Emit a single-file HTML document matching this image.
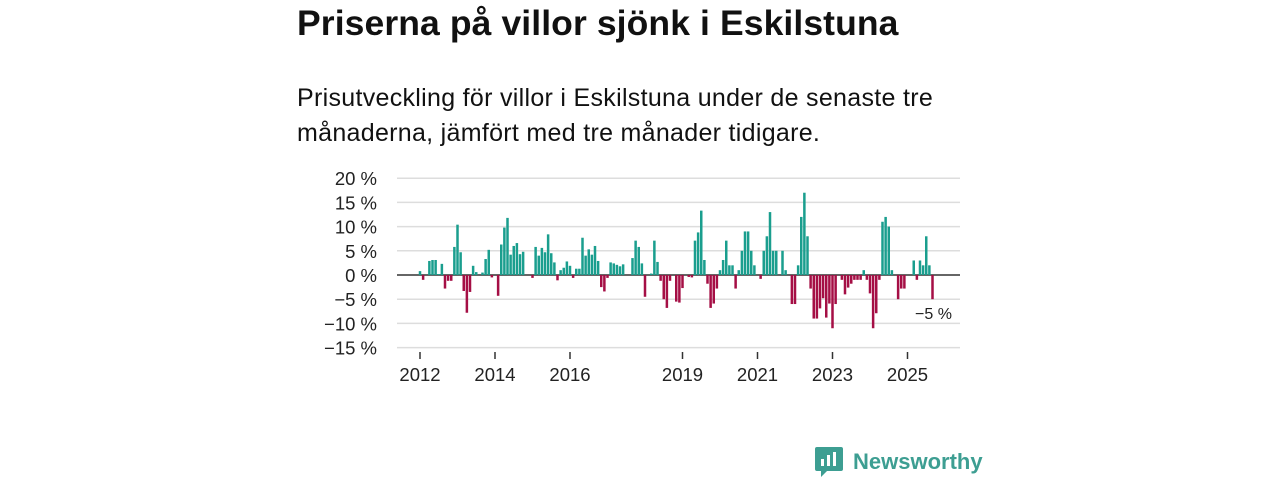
<!DOCTYPE html>
<html><head><meta charset="utf-8"><style>
body{margin:0;width:1280px;height:480px;background:#fff;font-family:"Liberation Sans","DejaVu Sans",sans-serif;color:#111;position:relative;overflow:hidden}
#title{position:absolute;left:297px;top:3px;font-size:35.5px;font-weight:bold;margin:0;letter-spacing:0.1px;white-space:nowrap}
#sub{position:absolute;left:297px;top:81px;font-size:25px;line-height:35px;width:720px;letter-spacing:0.3px}
svg{position:absolute;left:0;top:0}
</style></head><body>
<h1 id="title">Priserna på villor sjönk i Eskilstuna</h1>
<div id="sub">Prisutveckling för villor i Eskilstuna under de senaste tre<br>månaderna, jämfört med tre månader tidigare.</div>
<svg id="chart" width="1280" height="480"></svg>
<script>
const values=[0.8,-1,null,2.9,3.1,3.1,0.2,2.3,-2.8,-1.2,-1.2,5.8,10.4,4.7,-3.3,-7.8,-3.5,1.9,0.6,null,0.5,3.3,5.2,-0.5,null,-4.3,6.3,9.8,11.8,4.2,6,6.6,4.3,4.8,null,null,-0.6,5.8,4,5.6,4.7,8.4,4.5,2.6,-1.1,1,1.5,2.8,1.9,-0.6,1.3,1.3,7.7,4,5.3,4.2,6,2.9,-2.5,-3.4,-0.6,2.6,2.4,2.1,1.8,2.2,null,null,3.5,7.1,5.8,2.4,-4.5,null,0.3,7.1,2.7,-1.2,-5,-6.8,-1.2,null,-5.5,-5.7,-2.7,null,-0.4,-0.5,7.1,8.8,13.3,3.1,-1.8,-6.8,-5.9,-2.8,1,3.1,7.1,2,2,-2.8,1,5,9,9,5,2,null,-0.8,5,8,13,5,5,null,5,1,null,-6,-6,2,12,17,8,-2.8,-9,-9,-6.9,-4.8,-8.8,-5.9,-11,-6,null,-1,-4,-2.6,-1.8,-1,-1,-1,1,-1,-3.8,-11,-7.9,-1,11,12,10,1,null,-5,-2.8,-2.8,null,null,3,-1,3,2,8,2,-5];
const startYear=2012;
const yTicks=[20,15,10,5,0,-5,-10,-15];
const xTickYears=[2012,2014,2016,2019,2021,2023,2025];
const lastLabel="−5 %";
const svg=document.getElementById('chart');const NS='http://www.w3.org/2000/svg';
const y=v=>275-v*4.84;
const x=m=>420+m*3.125;
function mk(t,a,txt){const e=document.createElementNS(NS,t);for(const k in a)e.setAttribute(k,a[k]);if(txt!=null)e.textContent=txt;svg.appendChild(e);return e;}
yTicks.forEach(v=>{
 const g=mk('line',{x1:397,x2:960,y1:y(v),y2:y(v),stroke:v===0?'#333':'#ddd','stroke-width':v===0?1.6:1.5});
 
 
 const t=mk('text',{x:377,y:y(v)+7,'text-anchor':'end','font-size':18.5,fill:'#222'},(v<0?'−'+(-v):v)+' %');
 
 
});
xTickYears.forEach(yr=>{
 const xx=x((yr-startYear)*12);
 const l=mk('line',{x1:xx,x2:xx,y1:352,y2:359,stroke:'#333','stroke-width':1.5});
 
 
 const t=mk('text',{x:xx,y:381,'text-anchor':'middle','font-size':18.5,fill:'#222'},yr);
 
 
});
values.forEach((v,i)=>{
 if(v==null)return;
 const top=Math.min(y(v),y(0)),h=Math.abs(y(v)-y(0));
 const r=mk('rect',{x:x(i)-1.25,y:top,width:2.5,height:Math.max(h,0.5),fill:v>=0?'#1a9e8e':'#a50f45'});
 
 
});
const li=values.length-1;
const lab=mk('text',{x:x(li)+1,y:y(values[li])+20,'text-anchor':'middle','font-size':16,fill:'#222'},lastLabel);


</script>
<div style="position:absolute;left:815px;top:447px;display:flex;align-items:center">
<svg width="28" height="30" viewBox="0 0 28 30" style="position:static"><path d="M2 0h24a2 2 0 0 1 2 2v20a2 2 0 0 1-2 2H12l-6 6v-6H2a2 2 0 0 1-2-2V2a2 2 0 0 1 2-2z" fill="#3d9e92"/><rect x="6" y="12" width="3" height="7" fill="#fff"/><rect x="12" y="8" width="3" height="11" fill="#fff"/><rect x="18" y="5" width="3" height="14" fill="#fff"/></svg>
<span style="margin-left:10px;font-size:22px;font-weight:bold;color:#3d9e92">Newsworthy</span></div>
</body></html>
